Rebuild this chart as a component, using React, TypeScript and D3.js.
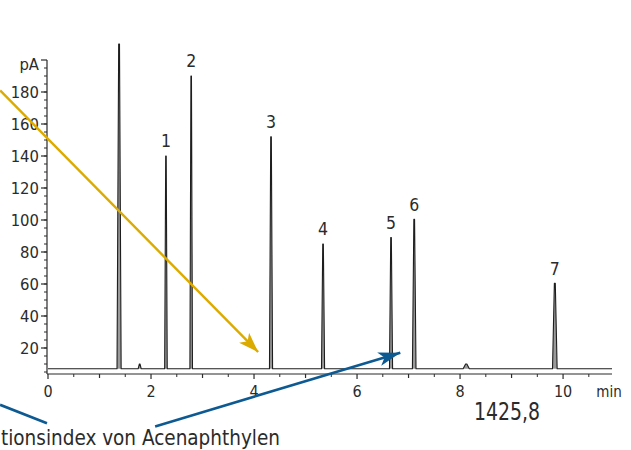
import React, { useEffect, useRef } from 'react';
import * as d3 from 'd3';

// Chromatogram peaks (retention time in min, signal in pA)
const peakTimes = [1.38, 1.78, 2.29, 2.78, 4.33, 5.34, 6.66, 7.11, 8.12, 9.84];
const peakHeights = [210, 10, 140, 190, 152, 85, 89, 100.5, 10, 60.5];
const peakWidths = [0.08, 0.06, 0.05, 0.05, 0.06, 0.06, 0.06, 0.07, 0.12, 0.09];
const baselineLevel = 7;

// numbered peaks
const labelNames = ['1', '2', '3', '4', '5', '6', '7'];
const labelTimes = [2.29, 2.78, 4.33, 5.34, 6.66, 7.11, 9.84];
const labelHeights = [140, 190, 152, 85, 89, 100.5, 60.5];

const xTicks = [0, 2, 4, 6, 8, 10];
const yTicks = [20, 40, 60, 80, 100, 120, 140, 160, 180];

// annotation arrows in data coordinates [min, pA]
const yellowArrow: [number, number][] = [[-0.93, 181], [4.08, 17.5]];
const blueLeader: [number, number][] = [[-0.93, -15.5], [-0.02, -27]];
const blueArrow: [number, number][] = [[2.08, -29], [6.84, 17]];

const FONT = "'DejaVu Sans Condensed', 'Liberation Sans Narrow', sans-serif";
const INK = '#2b2b2b';

export default function App() {
  const svgRef = useRef<SVGSVGElement>(null);
  const width = 631;
  const height = 450;

  useEffect(() => {
    if (!svgRef.current) return;
    const svg = d3.select(svgRef.current);
    svg.selectAll('*').remove();

    const x = d3.scaleLinear().domain([0, 10.95]).range([48, 612]);
    const y = d3.scaleLinear().domain([0, 200]).range([380, 60]);
    const yAxisBottom = 3.75;

    // arrow heads
    const defs = svg.append('defs');
    const mk = (id: string, color: string, len: number, w: number) => {
      defs.append('marker')
        .attr('id', id)
        .attr('markerUnits', 'userSpaceOnUse')
        .attr('markerWidth', len)
        .attr('markerHeight', w)
        .attr('viewBox', `0 0 ${len} ${w}`)
        .attr('refX', len)
        .attr('refY', w / 2)
        .attr('orient', 'auto')
        .append('path')
        .attr('d', `M0,0 L${len},${w / 2} L0,${w} L${len * 0.25},${w / 2} Z`)
        .attr('fill', color);
    };
    mk('headY', '#dcab00', 20, 14);
    mk('headB', '#0d5a92', 22, 14);

    // Y axis
    const yAxis = svg.append('g').attr('transform', 'translate(47,0)');
    yAxis.append('line')
      .attr('x1', 0).attr('x2', 0)
      .attr('y1', y(yAxisBottom)).attr('y2', y(200))
      .attr('stroke', INK).attr('stroke-width', 1.2);
    yAxis.selectAll('.minor')
      .data(d3.range(5, 200, 5))
      .join('line')
      .attr('x1', -3).attr('x2', 0)
      .attr('y1', d => y(d)).attr('y2', d => y(d))
      .attr('stroke', INK).attr('stroke-width', 1);
    yAxis.selectAll('.major')
      .data([...yTicks, 200])
      .join('line')
      .attr('x1', -6).attr('x2', 0)
      .attr('y1', d => y(d)).attr('y2', d => y(d))
      .attr('stroke', INK).attr('stroke-width', 1.2);
    yAxis.selectAll('.lbl')
      .data(yTicks)
      .join('text')
      .attr('x', -8)
      .attr('y', d => y(d))
      .attr('dy', '0.36em')
      .attr('text-anchor', 'end')
      .attr('font-family', FONT)
      .attr('font-size', 16.5)
      .attr('fill', INK)
      .text(d => d);
    yAxis.append('text')
      .attr('x', -8).attr('y', y(200) + 4)
      .attr('dy', '0.36em')
      .attr('text-anchor', 'end')
      .attr('font-family', FONT)
      .attr('font-size', 16.5)
      .attr('fill', INK)
      .text('pA');

    // X axis
    const xAxis = svg.append('g').attr('transform', `translate(0,${y(yAxisBottom)})`);
    xAxis.append('line')
      .attr('x1', 47).attr('x2', x(10.95))
      .attr('stroke', INK).attr('stroke-width', 1.2);
    xAxis.selectAll('.minor')
      .data(d3.range(0.5, 11, 1))
      .join('line')
      .attr('x1', d => x(d)).attr('x2', d => x(d))
      .attr('y1', 0).attr('y2', 3)
      .attr('stroke', INK).attr('stroke-width', 1);
    xAxis.selectAll('.major')
      .data(d3.range(0, 11, 1))
      .join('line')
      .attr('x1', d => x(d)).attr('x2', d => x(d))
      .attr('y1', 0).attr('y2', d => (d % 2 === 0 ? 5 : 4))
      .attr('stroke', INK).attr('stroke-width', 1.2);
    xAxis.selectAll('.lbl')
      .data(xTicks)
      .join('text')
      .attr('x', d => x(d))
      .attr('y', 17)
      .attr('dy', '0.36em')
      .attr('text-anchor', 'middle')
      .attr('font-family', FONT)
      .attr('font-size', 16)
      .attr('fill', INK)
      .text(d => d);
    xAxis.append('text')
      .attr('x', 609).attr('y', 18)
      .attr('dy', '0.36em')
      .attr('text-anchor', 'middle')
      .attr('font-family', FONT)
      .attr('font-size', 15)
      .attr('fill', INK)
      .text('min');

    // trace
    const pts: [number, number][] = [[0, baselineLevel]];
    peakTimes.forEach((t, i) => {
      const w = peakWidths[i];
      pts.push([t - w / 2, baselineLevel]);
      pts.push([t - w / 10, peakHeights[i]]);
      pts.push([t + w / 10, peakHeights[i]]);
      pts.push([t + w / 2, baselineLevel]);
    });
    pts.push([10.95, baselineLevel]);

    const line = d3.line<[number, number]>()
      .x(d => x(d[0]))
      .y(d => y(d[1]));

    svg.append('path')
      .datum(pts)
      .attr('d', line)
      .attr('fill', '#9a9a9a')
      .attr('stroke', '#1e1e1e')
      .attr('stroke-width', 1.1)
      .attr('stroke-linejoin', 'round');

    // peak numbers
    svg.selectAll('.pk')
      .data(labelNames)
      .join('text')
      .attr('x', (_, i) => x(labelTimes[i]))
      .attr('y', (_, i) => y(labelHeights[i]) - 15)
      .attr('dy', '0.36em')
      .attr('text-anchor', 'middle')
      .attr('font-family', FONT)
      .attr('font-size', 17.5)
      .attr('fill', INK)
      .text(d => d);

    // annotations
    svg.append('path')
      .datum(yellowArrow)
      .attr('d', line)
      .attr('stroke', '#dcab00')
      .attr('stroke-width', 2.4)
      .attr('fill', 'none')
      .attr('marker-end', 'url(#headY)');

    svg.append('path')
      .datum(blueLeader)
      .attr('d', line)
      .attr('stroke', '#0d5a92')
      .attr('stroke-width', 2.6)
      .attr('fill', 'none');

    svg.append('path')
      .datum(blueArrow)
      .attr('d', line)
      .attr('stroke', '#0d5a92')
      .attr('stroke-width', 2.6)
      .attr('fill', 'none')
      .attr('marker-end', 'url(#headB)');

    svg.append('text')
      .attr('x', 1).attr('y', 445)
      .attr('font-family', FONT)
      .attr('font-size', 21)
      .attr('textLength', 279)
      .attr('lengthAdjust', 'spacingAndGlyphs')
      .attr('fill', INK)
      .text('tionsindex von Acenaphthylen');

    svg.append('text')
      .attr('x', 474).attr('y', 420)
      .attr('font-family', FONT)
      .attr('font-size', 25)
      .attr('textLength', 66)
      .attr('lengthAdjust', 'spacingAndGlyphs')
      .attr('fill', INK)
      .text('1425,8');
  }, []);

  return (
    <svg
      ref={svgRef}
      width={width}
      height={height}
      style={{ position: 'absolute', left: 0, top: 0, background: '#fff' }}
    />
  );
}
